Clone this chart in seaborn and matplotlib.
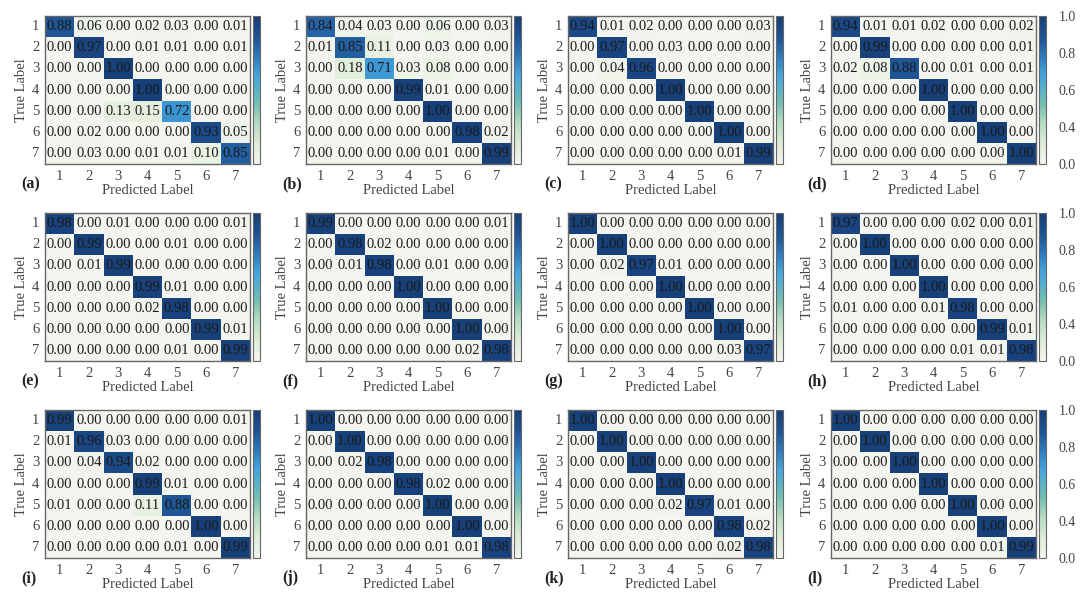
import numpy as np
import seaborn as sns
import matplotlib.pyplot as plt
from matplotlib.colors import LinearSegmentedColormap, FuncNorm

# confusion matrices, rows = true label, cols = predicted label
cm_a = [[0.88, 0.06, 0.00, 0.02, 0.03, 0.00, 0.01],
        [0.00, 0.97, 0.00, 0.01, 0.01, 0.00, 0.01],
        [0.00, 0.00, 1.00, 0.00, 0.00, 0.00, 0.00],
        [0.00, 0.00, 0.00, 1.00, 0.00, 0.00, 0.00],
        [0.00, 0.00, 0.13, 0.15, 0.72, 0.00, 0.00],
        [0.00, 0.02, 0.00, 0.00, 0.00, 0.93, 0.05],
        [0.00, 0.03, 0.00, 0.01, 0.01, 0.10, 0.85]]
cm_b = [[0.84, 0.04, 0.03, 0.00, 0.06, 0.00, 0.03],
        [0.01, 0.85, 0.11, 0.00, 0.03, 0.00, 0.00],
        [0.00, 0.18, 0.71, 0.03, 0.08, 0.00, 0.00],
        [0.00, 0.00, 0.00, 0.99, 0.01, 0.00, 0.00],
        [0.00, 0.00, 0.00, 0.00, 1.00, 0.00, 0.00],
        [0.00, 0.00, 0.00, 0.00, 0.00, 0.98, 0.02],
        [0.00, 0.00, 0.00, 0.00, 0.01, 0.00, 0.99]]
cm_c = [[0.94, 0.01, 0.02, 0.00, 0.00, 0.00, 0.03],
        [0.00, 0.97, 0.00, 0.03, 0.00, 0.00, 0.00],
        [0.00, 0.04, 0.96, 0.00, 0.00, 0.00, 0.00],
        [0.00, 0.00, 0.00, 1.00, 0.00, 0.00, 0.00],
        [0.00, 0.00, 0.00, 0.00, 1.00, 0.00, 0.00],
        [0.00, 0.00, 0.00, 0.00, 0.00, 1.00, 0.00],
        [0.00, 0.00, 0.00, 0.00, 0.00, 0.01, 0.99]]
cm_d = [[0.94, 0.01, 0.01, 0.02, 0.00, 0.00, 0.02],
        [0.00, 0.99, 0.00, 0.00, 0.00, 0.00, 0.01],
        [0.02, 0.08, 0.88, 0.00, 0.01, 0.00, 0.01],
        [0.00, 0.00, 0.00, 1.00, 0.00, 0.00, 0.00],
        [0.00, 0.00, 0.00, 0.00, 1.00, 0.00, 0.00],
        [0.00, 0.00, 0.00, 0.00, 0.00, 1.00, 0.00],
        [0.00, 0.00, 0.00, 0.00, 0.00, 0.00, 1.00]]
cm_e = [[0.98, 0.00, 0.01, 0.00, 0.00, 0.00, 0.01],
        [0.00, 0.99, 0.00, 0.00, 0.01, 0.00, 0.00],
        [0.00, 0.01, 0.99, 0.00, 0.00, 0.00, 0.00],
        [0.00, 0.00, 0.00, 0.99, 0.01, 0.00, 0.00],
        [0.00, 0.00, 0.00, 0.02, 0.98, 0.00, 0.00],
        [0.00, 0.00, 0.00, 0.00, 0.00, 0.99, 0.01],
        [0.00, 0.00, 0.00, 0.00, 0.01, 0.00, 0.99]]
cm_f = [[0.99, 0.00, 0.00, 0.00, 0.00, 0.00, 0.01],
        [0.00, 0.98, 0.02, 0.00, 0.00, 0.00, 0.00],
        [0.00, 0.01, 0.98, 0.00, 0.01, 0.00, 0.00],
        [0.00, 0.00, 0.00, 1.00, 0.00, 0.00, 0.00],
        [0.00, 0.00, 0.00, 0.00, 1.00, 0.00, 0.00],
        [0.00, 0.00, 0.00, 0.00, 0.00, 1.00, 0.00],
        [0.00, 0.00, 0.00, 0.00, 0.00, 0.02, 0.98]]
cm_g = [[1.00, 0.00, 0.00, 0.00, 0.00, 0.00, 0.00],
        [0.00, 1.00, 0.00, 0.00, 0.00, 0.00, 0.00],
        [0.00, 0.02, 0.97, 0.01, 0.00, 0.00, 0.00],
        [0.00, 0.00, 0.00, 1.00, 0.00, 0.00, 0.00],
        [0.00, 0.00, 0.00, 0.00, 1.00, 0.00, 0.00],
        [0.00, 0.00, 0.00, 0.00, 0.00, 1.00, 0.00],
        [0.00, 0.00, 0.00, 0.00, 0.00, 0.03, 0.97]]
cm_h = [[0.97, 0.00, 0.00, 0.00, 0.02, 0.00, 0.01],
        [0.00, 1.00, 0.00, 0.00, 0.00, 0.00, 0.00],
        [0.00, 0.00, 1.00, 0.00, 0.00, 0.00, 0.00],
        [0.00, 0.00, 0.00, 1.00, 0.00, 0.00, 0.00],
        [0.01, 0.00, 0.00, 0.01, 0.98, 0.00, 0.00],
        [0.00, 0.00, 0.00, 0.00, 0.00, 0.99, 0.01],
        [0.00, 0.00, 0.00, 0.00, 0.01, 0.01, 0.98]]
cm_i = [[0.99, 0.00, 0.00, 0.00, 0.00, 0.00, 0.01],
        [0.01, 0.96, 0.03, 0.00, 0.00, 0.00, 0.00],
        [0.00, 0.04, 0.94, 0.02, 0.00, 0.00, 0.00],
        [0.00, 0.00, 0.00, 0.99, 0.01, 0.00, 0.00],
        [0.01, 0.00, 0.00, 0.11, 0.88, 0.00, 0.00],
        [0.00, 0.00, 0.00, 0.00, 0.00, 1.00, 0.00],
        [0.00, 0.00, 0.00, 0.00, 0.01, 0.00, 0.99]]
cm_j = [[1.00, 0.00, 0.00, 0.00, 0.00, 0.00, 0.00],
        [0.00, 1.00, 0.00, 0.00, 0.00, 0.00, 0.00],
        [0.00, 0.02, 0.98, 0.00, 0.00, 0.00, 0.00],
        [0.00, 0.00, 0.00, 0.98, 0.02, 0.00, 0.00],
        [0.00, 0.00, 0.00, 0.00, 1.00, 0.00, 0.00],
        [0.00, 0.00, 0.00, 0.00, 0.00, 1.00, 0.00],
        [0.00, 0.00, 0.00, 0.00, 0.01, 0.01, 0.98]]
cm_k = [[1.00, 0.00, 0.00, 0.00, 0.00, 0.00, 0.00],
        [0.00, 1.00, 0.00, 0.00, 0.00, 0.00, 0.00],
        [0.00, 0.00, 1.00, 0.00, 0.00, 0.00, 0.00],
        [0.00, 0.00, 0.00, 1.00, 0.00, 0.00, 0.00],
        [0.00, 0.00, 0.00, 0.02, 0.97, 0.01, 0.00],
        [0.00, 0.00, 0.00, 0.00, 0.00, 0.98, 0.02],
        [0.00, 0.00, 0.00, 0.00, 0.00, 0.02, 0.98]]
cm_l = [[1.00, 0.00, 0.00, 0.00, 0.00, 0.00, 0.00],
        [0.00, 1.00, 0.00, 0.00, 0.00, 0.00, 0.00],
        [0.00, 0.00, 1.00, 0.00, 0.00, 0.00, 0.00],
        [0.00, 0.00, 0.00, 1.00, 0.00, 0.00, 0.00],
        [0.00, 0.00, 0.00, 0.00, 1.00, 0.00, 0.00],
        [0.00, 0.00, 0.00, 0.00, 0.00, 1.00, 0.00],
        [0.00, 0.00, 0.00, 0.00, 0.00, 0.01, 0.99]]

class_labels = ['1', '2', '3', '4', '5', '6', '7']
panel_names = ['(a)', '(b)', '(c)', '(d)', '(e)', '(f)',
               '(g)', '(h)', '(i)', '(j)', '(k)', '(l)']
matrices = [cm_a, cm_b, cm_c, cm_d, cm_e, cm_f,
            cm_g, cm_h, cm_i, cm_j, cm_k, cm_l]
cbar_ticks = [0.0, 0.4, 0.6, 0.8, 1.0]

sns.set_style('white')
plt.rcParams['font.family'] = ['Liberation Serif', 'DejaVu Serif']

cmap = LinearSegmentedColormap.from_list('cm', [
    (0.00, '#f3f5ee'), (0.15, '#dbebd5'), (0.28, '#b3dbbf'),
    (0.40, '#78c0b2'), (0.50, '#5ab3c8'), (0.60, '#45a5dd'),
    (0.72, '#2f7cc0'), (0.85, '#1f5495'), (1.00, '#173f78')])

# colour bar in the paper is stretched above 0.4
def fwd(x):
    return np.interp(x, [0.0, 0.4, 1.0], [0.0, 0.25, 1.0])

def inv(x):
    return np.interp(x, [0.0, 0.25, 1.0], [0.0, 0.4, 1.0])

W, H = 1080, 603
fig = plt.figure(figsize=(W / 100, H / 100), dpi=100)
fig.patch.set_facecolor('white')

col_x = [45, 306, 568, 831]
row_y = [16, 213, 410]
hw, hh = 205, 148
gray = '#666666'
txt = '#444444'

for idx, (cm, name) in enumerate(zip(matrices, panel_names)):
    r, c = divmod(idx, 4)
    x0, y0 = col_x[c], row_y[r]
    ax = fig.add_axes([x0 / W, 1 - (y0 + hh) / H, hw / W, hh / H])
    cax = fig.add_axes([(x0 + 208) / W, 1 - (y0 + hh) / H, 7 / W, hh / H])
    norm = FuncNorm((fwd, inv), vmin=0, vmax=1)
    sns.heatmap(np.array(cm), ax=ax, cbar_ax=cax, cmap=cmap, norm=norm,
                annot=True, fmt='.2f',
                annot_kws={'color': '#1a1a1a', 'fontsize': 10.5},
                xticklabels=class_labels, yticklabels=class_labels)
    for sp in ax.spines.values():
        sp.set_visible(True)
        sp.set_color(gray)
        sp.set_linewidth(1.0)
    ax.tick_params(direction='in', length=3, width=0.8, color=gray,
                   top=True, right=True, labelcolor=txt, labelsize=10.5, pad=4)
    ax.tick_params(axis='y', rotation=0)
    ax.set_xlabel('Predicted Label', fontsize=10.5, color=txt, labelpad=1)
    ax.set_ylabel('True Label', fontsize=10.5, color=txt, labelpad=3)

    cbar = ax.collections[0].colorbar
    cbar.outline.set_edgecolor(gray)
    cbar.outline.set_linewidth(0.8)
    if c == 3:
        cbar.set_ticks(cbar_ticks)
        cbar.set_ticklabels(['%.1f' % t for t in cbar_ticks])
        cax.tick_params(length=0, pad=9, labelsize=10, labelcolor=txt)
    else:
        cbar.set_ticks([])
    cax.minorticks_off()

    fig.text((x0 - 24) / W, 1 - (y0 + hh + 20) / H, name, fontsize=11.5,
             fontweight='bold', ha='left', va='center', color='#222222')

fig.savefig('out.png', dpi=100, facecolor='white')
